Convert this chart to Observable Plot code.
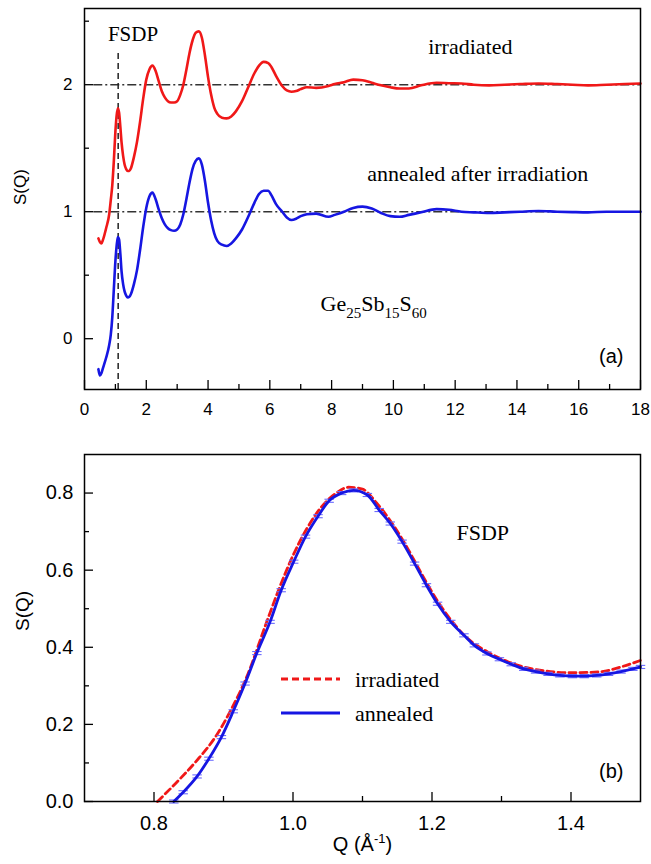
<!DOCTYPE html>
<html><head><meta charset="utf-8">
<script src="https://cdn.jsdelivr.net/npm/d3@7"></script>
<script src="https://cdn.jsdelivr.net/npm/@observablehq/plot@0.6"></script>
<style>
html,body{margin:0;padding:0;background:#fff;}
#wrap{position:relative;width:651px;height:864px;overflow:hidden;}
#wrap > svg{display:block;}
#legend{position:absolute;left:270px;top:660px;}
</style></head>
<body><div id="wrap"></div>
<script>
// ---------- Panel (a) data: S(Q) over Q (Å^-1) ----------
const qA = [0.45,0.5,0.55,0.6,0.7,0.8,0.85,0.9,0.95,1.0,1.04,1.08,1.12,1.16,1.2,1.25,1.3,1.35,1.4,1.45,1.5,1.6,1.7,1.8,1.9,2.0,2.1,2.2,2.3,2.4,2.5,2.6,2.7,2.8,2.9,3.0,3.1,3.2,3.3,3.4,3.5,3.6,3.7,3.8,3.9,4.0,4.1,4.2,4.3,4.45,4.6,4.75,4.9,5.1,5.3,5.5,5.65,5.8,5.95,6.05,6.2,6.4,6.55,6.7,6.85,7.0,7.2,7.5,7.9,8.1,8.4,8.7,9.0,9.3,9.6,9.9,10.2,10.5,10.9,11.4,11.8,12.2,12.6,13.1,13.6,14.1,14.7,15.3,15.8,16.3,16.9,17.5,18.0];
const sAnnealedA = [-0.24,-0.29,-0.27,-0.23,-0.15,-0.05,0.03,0.17,0.39,0.61,0.73,0.80,0.78,0.67,0.53,0.43,0.37,0.34,0.325,0.33,0.35,0.43,0.54,0.70,0.88,1.03,1.12,1.15,1.10,1.02,0.95,0.90,0.87,0.855,0.85,0.86,0.90,0.98,1.10,1.23,1.34,1.40,1.42,1.37,1.24,1.07,0.93,0.83,0.77,0.74,0.73,0.75,0.79,0.86,0.96,1.07,1.14,1.165,1.165,1.13,1.06,1.0,0.955,0.935,0.945,0.965,0.98,0.985,0.96,0.975,1.0,1.03,1.04,1.025,0.99,0.965,0.96,0.975,0.995,1.02,1.015,1.0,0.995,0.99,0.995,1.0,1.005,1.0,0.997,0.995,1.0,1.0,1.0];
const sIrradiatedA = [-0.21,-0.24,-0.25,-0.22,-0.13,-0.02,0.09,0.21,0.40,0.63,0.757,0.815,0.78,0.67,0.545,0.44,0.37,0.335,0.32,0.32,0.34,0.43,0.55,0.71,0.89,1.04,1.12,1.15,1.11,1.03,0.95,0.90,0.87,0.86,0.86,0.87,0.92,1.0,1.12,1.25,1.35,1.41,1.42,1.37,1.23,1.06,0.92,0.82,0.77,0.74,0.735,0.75,0.79,0.87,0.98,1.09,1.15,1.18,1.17,1.14,1.07,0.99,0.955,0.945,0.95,0.965,0.98,0.975,0.99,1.005,1.02,1.04,1.035,1.015,0.995,0.98,0.97,0.97,0.995,1.015,1.012,1.01,1.0,0.995,1.0,1.005,1.01,1.005,1.0,0.995,1.0,1.005,1.01];
const irradiatedOffset = 1;     // irradiated curve shifted up by 1
const referenceLevels = [1, 2];
const fsdpQ = 1.09;
const xTicksA = [0,2,4,6,8,10,12,14,16,18];
const xMinorA = [1,3,5,7,9,11,13,15,17];
const yTicksA = [0,1,2];
const yMinorA = [0.5,1.5,2.5];

// ---------- Panel (b) data: FSDP close-up ----------
const qAnnB = [0.8285,0.842,0.862,0.879,0.897,0.914,0.931,0.948,0.967,0.983,1.001,1.018,1.036,1.052,1.07,1.087,1.107,1.124,1.140,1.157,1.175,1.192,1.208,1.227,1.246,1.261,1.279,1.297,1.314,1.332,1.349,1.367,1.384,1.402,1.419,1.437,1.454,1.472,1.489,1.5];
const sAnnB = [0.0,0.024,0.065,0.111,0.167,0.234,0.306,0.385,0.466,0.548,0.622,0.687,0.740,0.780,0.800,0.807,0.795,0.756,0.721,0.674,0.617,0.561,0.513,0.466,0.431,0.405,0.384,0.369,0.356,0.344,0.337,0.331,0.327,0.325,0.325,0.327,0.331,0.337,0.344,0.349];
const errAnnB = 0.004;
const qIrrB = [0.805,0.83,0.86,0.89,0.91,0.935,0.96,0.98,1.0,1.02,1.04,1.06,1.08,1.10,1.12,1.14,1.16,1.18,1.20,1.22,1.25,1.28,1.31,1.35,1.40,1.44,1.47,1.50];
const sIrrB = [0.0,0.045,0.103,0.172,0.235,0.33,0.455,0.552,0.638,0.708,0.762,0.797,0.815,0.81,0.775,0.728,0.672,0.607,0.543,0.488,0.425,0.388,0.362,0.342,0.334,0.336,0.348,0.366];
const xTicksB = [0.8,1.0,1.2,1.4];
const xMinorB = [0.9,1.1,1.3];
const yTicksB = [0,0.2,0.4,0.6,0.8];
const yMinorB = [0.1,0.3,0.5,0.7];

// ---------- styles ----------
const RED = "#f01818", BLUE = "#1616e2", ERR = "#6b6bff";
const SANS = "'Liberation Sans', Arial, sans-serif";
const SERIF = "'Liberation Serif', 'Times New Roman', serif";

const wrap = document.getElementById("wrap");

// ---------- Panel (a) ----------
const dataA = qA.map((q, i) => ({q, ann: sAnnealedA[i], irr: sIrradiatedA[i] + irradiatedOffset}));
const WA = 651, HA = 430, mlA = 84, mrA = 11, mtA = 8, mbA = 41;
const fwA = WA - mlA - mrA, fhA = HA - mtA - mbA;

const plotA = Plot.plot({
  width: WA, height: HA,
  marginLeft: mlA, marginRight: mrA, marginTop: mtA, marginBottom: mbA,
  style: {fontFamily: SANS, background: "#fff", color: "#000"},
  x: {domain: [0, 18]},
  y: {domain: [-0.4, 2.6]},
  marks: [
    Plot.axisX({ticks: xTicksA, tickSize: 0, tickPadding: 13, fontSize: 17, label: null, tickFormat: d3.format("d")}),
    Plot.axisY({ticks: yTicksA, tickSize: 0, tickPadding: 12, fontSize: 17, label: null, tickFormat: d3.format("d")}),
    Plot.ruleX(xTicksA, {insetTop: fhA - 9, stroke: "#000", strokeWidth: 1.3}),
    Plot.ruleX(xMinorA, {insetTop: fhA - 5, stroke: "#000", strokeWidth: 1.3}),
    Plot.ruleY(yTicksA, {insetRight: fwA - 9, stroke: "#000", strokeWidth: 1.3}),
    Plot.ruleY(yMinorA, {insetRight: fwA - 5, stroke: "#000", strokeWidth: 1.3}),
    Plot.ruleY(referenceLevels, {x1: 0.3, x2: 18, stroke: "#333", strokeWidth: 1.4, strokeDasharray: "9,3,2,3"}),
    Plot.ruleX([fsdpQ], {y1: -0.4, y2: 2.27, stroke: "#222", strokeWidth: 1.5, strokeDasharray: "6,4"}),
    Plot.line(dataA, {x: "q", y: "irr", stroke: RED, strokeWidth: 2.6, curve: "monotone-x"}),
    Plot.line(dataA, {x: "q", y: "ann", stroke: BLUE, strokeWidth: 2.6, curve: "monotone-x"}),
    Plot.text(["FSDP"], {x: 1.57, y: 2.40, fontFamily: SERIF, fontSize: 21, fill: "#000"}),
    Plot.text(["irradiated"], {x: 12.49, y: 2.30, fontFamily: SERIF, fontSize: 22, fill: "#000"}),
    Plot.text(["annealed after irradiation"], {x: 12.73, y: 1.30, fontFamily: SERIF, fontSize: 22, fill: "#000"}),
    Plot.text(["Ge25Sb15S60"], {x: 7.64, y: 0.275, textAnchor: "start", fontFamily: SERIF, fontSize: 22, fill: "#000"}),
    Plot.text(["(a)"], {frameAnchor: "bottom-right", dx: -17, dy: -27, fontSize: 20, fill: "#000"}),
    Plot.text(["S(Q)"], {frameAnchor: "left", rotate: -90, dx: -64, dy: 6, fontSize: 17, fill: "#000"}),
    Plot.frame({stroke: "#000", strokeWidth: 1.5})
  ]
});
wrap.appendChild(plotA);

// ---------- Panel (b) ----------
const annB = qAnnB.map((q, i) => ({q, s: sAnnB[i]}));
const irrB = qIrrB.map((q, i) => ({q, s: sIrrB[i]}));
const WB = 651, HB = 434, mlB = 84, mrB = 11, mtB = 24, mbB = 63;
const fwB = WB - mlB - mrB, fhB = HB - mtB - mbB;
const capHalf = 0.0068;

const plotB = Plot.plot({
  width: WB, height: HB,
  marginLeft: mlB, marginRight: mrB, marginTop: mtB, marginBottom: mbB,
  style: {fontFamily: SANS, background: "#fff", color: "#000"},
  x: {domain: [0.7, 1.5]},
  y: {domain: [0, 0.9]},
  marks: [
    Plot.axisX({ticks: xTicksB, tickSize: 0, tickPadding: 14, fontSize: 20, label: null, tickFormat: d3.format(".1f")}),
    Plot.axisY({ticks: yTicksB, tickSize: 0, tickPadding: 11, fontSize: 20, label: null, tickFormat: d3.format(".1f")}),
    Plot.ruleX(xTicksB, {insetTop: fhB - 9, stroke: "#000", strokeWidth: 1.3}),
    Plot.ruleX(xMinorB, {insetTop: fhB - 5, stroke: "#000", strokeWidth: 1.3}),
    Plot.ruleY(yTicksB, {insetRight: fwB - 9, stroke: "#000", strokeWidth: 1.3}),
    Plot.ruleY(yMinorB, {insetRight: fwB - 5, stroke: "#000", strokeWidth: 1.3}),
    Plot.line(irrB, {x: "q", y: "s", stroke: RED, strokeWidth: 2.8, strokeDasharray: "7,4", curve: "monotone-x"}),
    Plot.link(annB, {x1: d => d.q - capHalf, x2: d => d.q + capHalf, y1: d => d.s + errAnnB, y2: d => d.s + errAnnB, stroke: ERR, strokeWidth: 1.1}),
    Plot.link(annB, {x1: d => d.q - capHalf, x2: d => d.q + capHalf, y1: d => d.s - errAnnB, y2: d => d.s - errAnnB, stroke: ERR, strokeWidth: 1.1}),
    Plot.line(annB, {x: "q", y: "s", stroke: BLUE, strokeWidth: 2.8, curve: "monotone-x"}),
    Plot.text(["FSDP"], {x: 1.273, y: 0.696, fontFamily: SERIF, fontSize: 22, fill: "#000"}),
    Plot.text(["(b)"], {frameAnchor: "bottom-right", dx: -17, dy: -24, fontSize: 20, fill: "#000"}),
    Plot.text(["S(Q)"], {frameAnchor: "left", rotate: -90, dx: -62, dy: 3, fontSize: 19, fill: "#000"}),
    Plot.text(["Q (Å-1)"], {frameAnchor: "bottom", dy: 49, fontSize: 20, fill: "#000"}),
    Plot.frame({stroke: "#000", strokeWidth: 1.5})
  ]
});
wrap.appendChild(plotB);

// ---------- sub/superscripts as real text ----------
function rebuild(svg, content, parts) {
  svg.querySelectorAll("text").forEach(t => {
    if (t.textContent === content) {
      while (t.firstChild) t.removeChild(t.firstChild);
      parts.forEach(([str, dy, size]) => {
        const ts = document.createElementNS("http://www.w3.org/2000/svg", "tspan");
        ts.textContent = str;
        if (dy) ts.setAttribute("dy", dy);
        if (size) ts.setAttribute("font-size", size);
        t.appendChild(ts);
      });
    }
  });
}
rebuild(plotA, "Ge25Sb15S60", [["Ge",0,null],["25",7,15],["Sb",-7,null],["15",7,15],["S",-7,null],["60",7,15]]);
rebuild(plotB, "Q (Å-1)", [["Q (Å",0,null],["-1",-8,13],[")",8,null]]);

// ---------- legend for panel (b) ----------
const ns = "http://www.w3.org/2000/svg";
const leg = document.createElementNS(ns, "svg");
leg.setAttribute("id", "legend");
leg.setAttribute("width", 220); leg.setAttribute("height", 72);
const legendItems = [
  {label: "irradiated", color: RED, dash: "7,4", y: 19},
  {label: "annealed", color: BLUE, dash: null, y: 53}
];
legendItems.forEach(it => {
  const ln = document.createElementNS(ns, "line");
  ln.setAttribute("x1", 11); ln.setAttribute("x2", 70);
  ln.setAttribute("y1", it.y); ln.setAttribute("y2", it.y);
  ln.setAttribute("stroke", it.color); ln.setAttribute("stroke-width", 2.8);
  if (it.dash) ln.setAttribute("stroke-dasharray", it.dash);
  leg.appendChild(ln);
  const tx = document.createElementNS(ns, "text");
  tx.setAttribute("x", 85); tx.setAttribute("y", it.y + 8);
  tx.setAttribute("font-family", SERIF); tx.setAttribute("font-size", 22);
  tx.textContent = it.label;
  leg.appendChild(tx);
});
wrap.appendChild(leg);
</script>
</body></html>
